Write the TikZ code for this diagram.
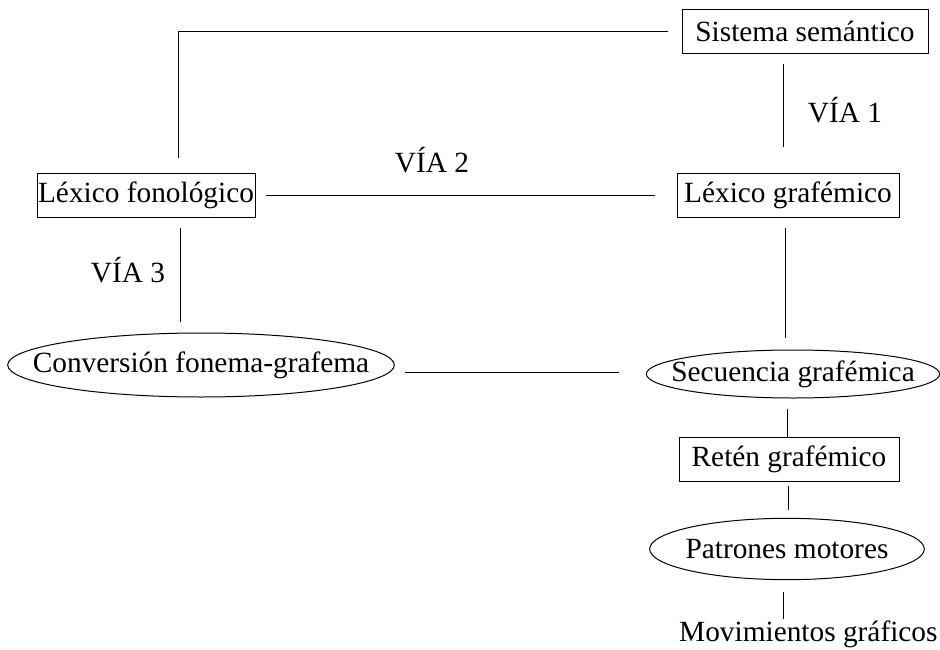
\documentclass[tikz,border=0pt]{standalone}
\usepackage{fontspec}
\setmainfont{Liberation Serif}
\usetikzlibrary{shapes.geometric,positioning}

\begin{document}
\begin{tikzpicture}[x=0.75pt,y=-0.75pt,line width=0.75pt,
  every node/.style={font=\fontsize{22}{26}\selectfont},
  box/.style={draw,rectangle,inner sep=0pt,minimum height=33pt},
  oval/.style={draw,ellipse,inner xsep=-30pt,inner ysep=0pt},
  link/.style={shorten <=8pt,shorten >=8pt}]
\useasboundingbox (0,0) rectangle (940,650);

% Boxes
\node[box,minimum width=184.5pt] (sem) at (805,31) {Sistema semántico};
\node[box,minimum width=166.5pt] (graf) at (788,195) {Léxico grafémico};
\node[box,minimum width=163.5pt] (fon) at (146,195) {Léxico fonológico};
\node[box,minimum width=165pt] (ret) at (789,459) {Retén grafémico};

% Ellipses
\node[oval,minimum width=290pt,minimum height=48pt] (conv) at (201,365) {Conversión fonema-grafema};
\node[oval,minimum width=220pt,minimum height=36pt] (sec) at (793,374) {Secuencia grafémica};
\node[oval,minimum width=206pt,minimum height=46pt] (pat) at (787,549) {Patrones motores};
\node[inner sep=0pt,anchor=east] (mov) at (938,634) {Movimientos gráficos};

% Labels
\node (via1) at (845,110) {VÍA 1};
\node (via2) at (432,160) {VÍA 2};
\node (via3) at (128,270) {VÍA 3};

% Routes
\draw[shorten <=10pt,shorten >=11pt] (sem.west) -| ([xshift=24pt]fon.north);
\draw[shorten <=8pt,shorten >=19pt] ([xshift=-16.5pt]sem.south) -- ([xshift=-3.75pt]graf.north);
\draw[shorten <=7.5pt,shorten >=16.5pt] (fon.east) -- (graf.west);
\draw[link] ([xshift=25.5pt]fon.south) -- ([xshift=25.5pt]fon.south |- conv.north);
\draw[shorten <=7.5pt,shorten >=9pt] ([xshift=-2.25pt]graf.south) -- ([xshift=-2.25pt]graf.south |- sec.north);
\draw[shorten <=7.5pt,shorten >=20pt] (conv.east |- 0,372) -- (sec.west |- 0,372);
\draw[shorten <=7.5pt] ([xshift=-4pt]sec.south) -- ([xshift=-4pt]sec.south |- ret.north);
\draw[shorten <=3pt,shorten >=6pt] ([xshift=-0.75pt]ret.south) -- ([xshift=-0.75pt]ret.south |- pat.north);
\draw[shorten <=9pt,shorten >=1pt] ([xshift=-3pt]pat.south) -- ([xshift=-3pt]pat.south |- mov.north);
\end{tikzpicture}
\end{document}
